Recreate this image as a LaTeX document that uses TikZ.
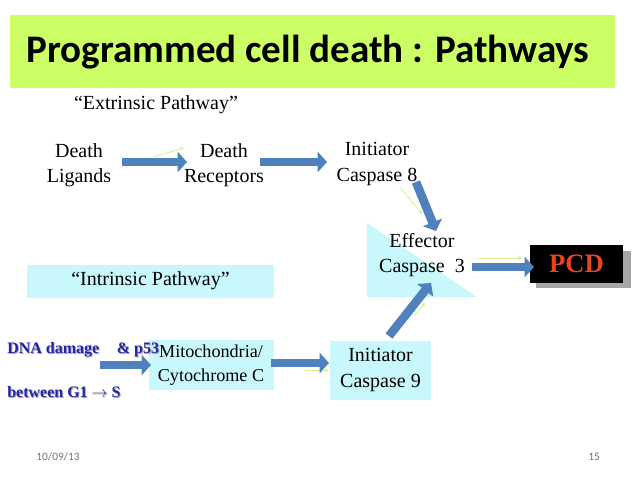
\documentclass[tikz,border=0pt]{standalone}
\usepackage{fontspec}
\setmainfont{Liberation Serif}
\newfontfamily\titlefont{Carlito}
\usetikzlibrary{arrows.meta}
\definecolor{titlegreen}{HTML}{CCFF66}
\definecolor{lightcyan}{HTML}{C8F7FC}
\definecolor{arrowblue}{HTML}{4F81BD}
\definecolor{dnablue}{HTML}{2424A8}
\definecolor{pcdred}{HTML}{E8451E}
\definecolor{thingreen}{HTML}{D4F28A}
\begin{document}
\begin{tikzpicture}[x=0.75pt,y=-0.75pt,
  lbl/.style={align=center,font=\fontsize{15}{19}\selectfont,inner sep=0pt},
  cyanbox/.style={fill=lightcyan,inner sep=0pt},
  blockarrow/.style={draw=arrowblue,line width=6.5pt,-{Triangle[length=7pt,width=15pt]}},
  thinarrow/.style={draw=thingreen,line width=0.6pt,-{Stealth[length=3pt,width=3pt]}},
  dnatext/.style={font=\bfseries\fontsize{12}{14}\selectfont,text=dnablue,inner sep=0pt,anchor=west},
  dnashadow/.style={font=\bfseries\fontsize{12}{14}\selectfont,text=black!35,inner sep=0pt,anchor=west},
  foot/.style={font=\titlefont\fontsize{8.5}{10}\selectfont,text=black!55,inner sep=0pt}]
\useasboundingbox[fill=white] (0,0) rectangle (638,479);
% title
\fill[titlegreen] (10,15) rectangle (615,88);
\node[font=\titlefont\bfseries\fontsize{29.3}{34}\selectfont,inner sep=0pt] (title) at (308,52) {Programmed cell death : Pathways};
% extrinsic
\node[lbl] (ext) at (156,105) {``Extrinsic Pathway''};
\node[lbl] (dl) at (79,165) {Death\\Ligands};
\node[lbl] (dr) at (224,165) {Death\\Receptors};
\node[lbl] (ic8) at (377,164) {Initiator\\Caspase 8};
% effector triangle
\fill[lightcyan] (367,223) -- (367,297) -- (477,297) -- cycle;
\node[lbl] (eff) at (422,255) {Effector\\Caspase\ \ 3};
% PCD
\fill[black!35] (536,251) rectangle (631,288);
\node[fill=black,minimum width=93*0.75pt,minimum height=38*0.75pt,inner sep=0pt,
  font=\bfseries\fontsize{20}{24}\selectfont,text=pcdred] (pcd) at (576.5,264) {PCD};
% intrinsic
\node[cyanbox,minimum width=247*0.75pt,minimum height=33*0.75pt,lbl] (int) at (150.5,281) {``Intrinsic Pathway''};
% mitochondria
\node[cyanbox,minimum width=125*0.75pt,minimum height=50*0.75pt,lbl,font=\fontsize{13.6}{18.5}\selectfont] (mito) at (211,365) {Mitochondria/\\Cytochrome C};
% DNA damage text with shadow
\node[dnashadow] at (8,351) {DNA damage\hspace{1.1em}\& p53};
\node[dnatext] (dna) at (7,350) {DNA damage\hspace{1.1em}\& p53};
\node[dnashadow] at (8,393) {between G1 $\rightarrow$ S};
\node[dnatext] (g1) at (7,392) {between G1 $\rightarrow$ S};
% caspase 9
\node[cyanbox,minimum width=101*0.75pt,minimum height=59*0.75pt,lbl] (ic9) at (380.5,370) {Initiator\\Caspase 9};
% arrow coordinates
\coordinate (a1s) at (122,162); \coordinate (a1e) at (187,162);
\coordinate (a2s) at (260,162); \coordinate (a2e) at (327,162);
\coordinate (a3s) at (416,182); \coordinate (a3e) at (436,231);
\coordinate (a4s) at (472,267); \coordinate (a4e) at (534,267);
\coordinate (a5s) at (100,365); \coordinate (a5e) at (151,365);
\coordinate (a6s) at (271,363); \coordinate (a6e) at (329,363);
\coordinate (a7s) at (389,336); \coordinate (a7e) at (431,283);
% thin green arrows
\coordinate (g1s) at (153,157); \coordinate (g1e) at (184,148);
\coordinate (g2s) at (400,187); \coordinate (g2e) at (422,214);
\coordinate (g3s) at (478,258); \coordinate (g3e) at (522,258);
\coordinate (g4s) at (414,316); \coordinate (g4e) at (425,303);
\coordinate (g5s) at (305,370); \coordinate (g5e) at (329,370);
\draw[thinarrow] (g1s) -- (g1e);
\draw[thinarrow] (g2s) -- (g2e);
\draw[thinarrow] (g3s) -- (g3e);
\draw[thinarrow] (g4s) -- (g4e);
\draw[thinarrow] (g5s) -- (g5e);
% block arrows
\draw[blockarrow] (a1s) -- (a1e);
\draw[blockarrow] (a2s) -- (a2e);
\draw[blockarrow] (a3s) -- (a3e);
\draw[blockarrow] (a4s) -- (a4e);
\draw[blockarrow] (a5s) -- (a5e);
\draw[blockarrow] (a6s) -- (a6e);
\draw[blockarrow] (a7s) -- (a7e);
% footer
\node[foot] (date) at (58,457) {10/09/13};
\node[foot] (page) at (594,457) {15};
\end{tikzpicture}
\end{document}
